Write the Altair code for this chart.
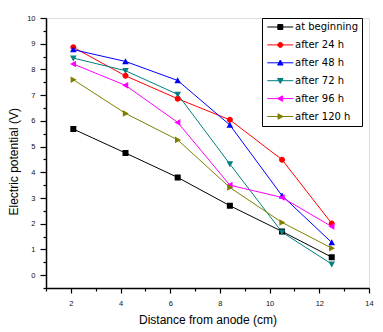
import altair as alt
import pandas as pd

# ---- data ----
distance = [2.1, 4.2, 6.3, 8.4, 10.5, 12.5]
series_names = ["at beginning", "after 24 h", "after 48 h", "after 72 h", "after 96 h", "after 120 h"]
v_begin = [5.68, 4.75, 3.80, 2.70, 1.70, 0.70]
v_24h = [8.86, 7.75, 6.86, 6.04, 4.49, 2.01]
v_48h = [8.77, 8.31, 7.57, 5.84, 3.09, 1.27]
v_72h = [8.44, 7.95, 7.03, 4.32, 1.67, 0.43]
v_96h = [8.21, 7.38, 5.94, 3.50, 3.02, 1.89]
v_120h = [7.60, 6.29, 5.26, 3.41, 2.05, 1.05]

x_major = [2, 4, 6, 8, 10, 12, 14]
x_minor = [1, 3, 5, 7, 9, 11, 13]
y_major = [0, 1, 2, 3, 4, 5, 6, 7, 8, 9, 10]
y_minor = [-0.5, 0.5, 1.5, 2.5, 3.5, 4.5, 5.5, 6.5, 7.5, 8.5, 9.5]

colors = ["#000000", "#FF0000", "#0000FF", "#008080", "#FF00FF", "#808000"]

# marker shapes (line segment + marker; the line only shows when stroked, i.e. in the legend)
LINE = "M-5.2,0H5.2"
marker_paths = [
    "M-1,-1H1V1H-1Z",
    "M-1,0A1,1,0,1,0,1,0A1,1,0,1,0,-1,0Z",
    "M0,-1.1L1.1,0.9H-1.1Z",
    "M0,1.1L1.1,-0.9H-1.1Z",
    "M-1.1,0L0.9,-1.1V1.1Z",
    "M1.1,0L-0.9,-1.1V1.1Z",
]
shape_paths = [LINE + p for p in marker_paths]

values = [v_begin, v_24h, v_48h, v_72h, v_96h, v_120h]
rows = []
for name, vals in zip(series_names, values):
    for d, v in zip(distance, vals):
        rows.append({"distance": d, "potential": v, "series": name})
df = pd.DataFrame(rows)

FONT = "Liberation Sans"

x_scale = alt.Scale(domain=[1, 14], nice=False, zero=False)
y_scale = alt.Scale(domain=[-0.5, 10], nice=False, zero=False)
color_scale = alt.Scale(domain=series_names, range=colors)
shape_scale = alt.Scale(domain=series_names, range=shape_paths)

legend = alt.Legend(
    title=None, orient="none", legendX=216, legendY=0,
    padding=4, strokeColor="black", fillColor="white",
    symbolSize=25, symbolOffset=9.3, labelOffset=9.7, rowPadding=7.9,
    symbolStrokeWidth=1,
    labelFont="DejaVu Sans", labelFontSize=10, labelColor="black", labelLimit=0,
)

x_axis_major = alt.Axis(
    values=x_major, format="d", tickSize=5, tickWidth=1.2, tickColor="black",
    domainColor="black", domainWidth=1.5, grid=False, labelFlush=False,
    labelFont=FONT, labelFontSize=7.5, labelColor="#111111", labelPadding=6,
    title="Distance from anode (cm)", titleFont=FONT, titleFontSize=12,
    titleFontWeight="normal", titleColor="black", titleY=35.5, titleBaseline="alphabetic",
    orient="bottom",
)
y_axis_major = alt.Axis(
    values=y_major, format="d", tickSize=6, tickWidth=1.2, tickColor="black",
    domainColor="black", domainWidth=1.5, grid=False, labelFlush=False,
    labelFont=FONT, labelFontSize=7.5, labelColor="#111111", labelPadding=5,
    title="Electric potential (V)", titleFont=FONT, titleFontSize=12,
    titleFontWeight="normal", titleColor="black", titleX=-28.7, titleY=143.3,
    titleBaseline="alphabetic", orient="left",
)
x_axis_minor = alt.Axis(values=x_minor, tickSize=3, tickWidth=1.2, tickColor="black",
                        labels=False, domain=False, grid=False, title=None, orient="bottom")
y_axis_minor = alt.Axis(values=y_minor, tickSize=3, tickWidth=1.2, tickColor="black",
                        labels=False, domain=False, grid=False, title=None, orient="left")

base = alt.Chart(df)

lines = base.mark_line(strokeWidth=1).encode(
    x=alt.X("distance:Q", scale=x_scale, axis=x_axis_major),
    y=alt.Y("potential:Q", scale=y_scale, axis=y_axis_major),
    stroke=alt.Stroke("series:N", scale=color_scale, legend=legend),
    detail="series:N",
)

points = base.mark_point(filled=True, size=36, opacity=1).encode(
    x=alt.X("distance:Q", scale=x_scale, axis=x_axis_minor),
    y=alt.Y("potential:Q", scale=y_scale, axis=y_axis_minor),
    fill=alt.Fill("series:N", scale=color_scale, legend=legend),
    shape=alt.Shape("series:N", scale=shape_scale, legend=legend),
)

chart = alt.layer(lines, points).resolve_axis(x="independent", y="independent").properties(
    width=323, height=270,
    padding={"left": 46, "top": 18, "right": 14, "bottom": 44},
    autosize="none",
).configure_view(stroke="black", strokeWidth=1.2).configure(background="white")

chart.save("out.html", embed_options={"renderer": "svg", "actions": False})
